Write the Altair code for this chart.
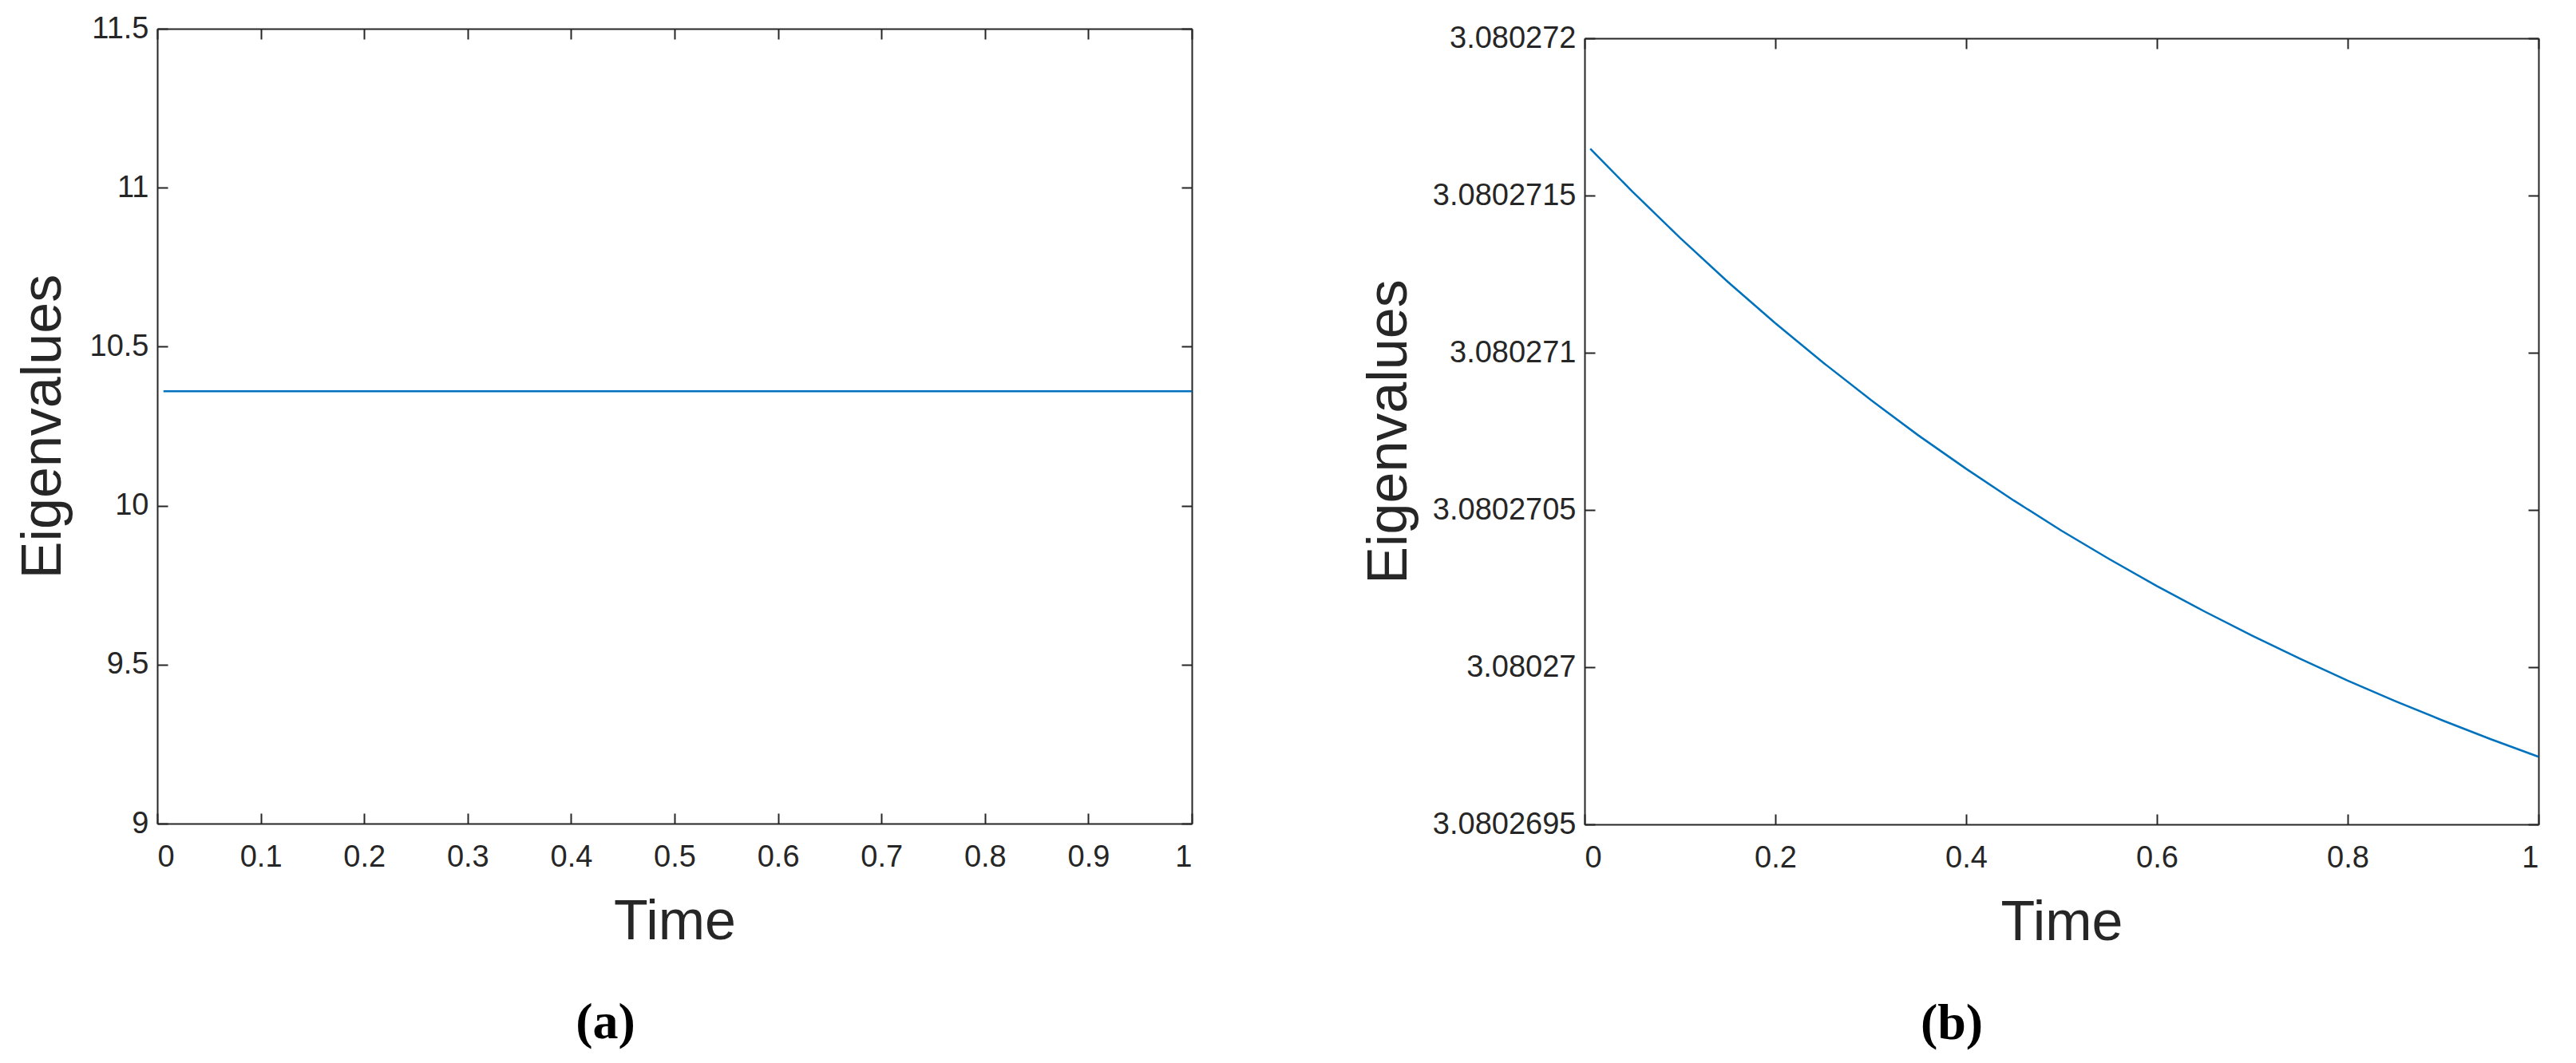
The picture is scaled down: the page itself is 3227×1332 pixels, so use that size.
import altair as alt
import pandas as pd

# ---------------- data ----------------
time_a = [0.006, 0.1, 0.2, 0.3, 0.4, 0.5, 0.6, 0.7, 0.8, 0.9, 1.0]
eig_a = [10.36, 10.36, 10.36, 10.36, 10.36, 10.36, 10.36, 10.36, 10.36, 10.36, 10.36]

time_b = [0.006, 0.05, 0.1, 0.15, 0.2, 0.25, 0.3, 0.35, 0.4, 0.45, 0.5,
          0.55, 0.6, 0.65, 0.7, 0.75, 0.8, 0.85, 0.9, 0.95, 1.0]
eig_b = [3.080271649, 3.080271513, 3.080271366, 3.080271226, 3.080271094,
         3.080270969, 3.08027085, 3.080270737, 3.080270631, 3.08027053,
         3.080270434, 3.080270344, 3.080270258, 3.080270177, 3.0802701,
         3.080270027, 3.080269957, 3.080269892, 3.08026983, 3.080269771,
         3.080269715]

xticks_a = [0, 0.1, 0.2, 0.3, 0.4, 0.5, 0.6, 0.7, 0.8, 0.9, 1]
yticks_a = [9, 9.5, 10, 10.5, 11, 11.5]
xticks_b = [0, 0.2, 0.4, 0.6, 0.8, 1]
yticks_b = [3.0802695, 3.08027, 3.0802705, 3.080271, 3.0802715, 3.080272]

x_title = "Time"
y_title = "Eigenvalues"
captions = ["(a)", "(b)"]

# ---------------- style ----------------
INK = "#262626"
BLUE = "#0072BD"
TICK = 13
SANS = "Liberation Sans"

df_a = pd.DataFrame({"t": time_a, "v": eig_a})
df_b = pd.DataFrame({"t": time_b, "v": eig_b})


def panel(df, xvals, yvals, w, h, shift, caption, ylabfmt):
    xs = alt.Scale(domain=[xvals[0], xvals[-1]], nice=False, zero=False)
    ys = alt.Scale(domain=[yvals[0], yvals[-1]], nice=False, zero=False,
                   range=[h, shift])
    ticks_only = dict(tickSize=TICK, tickWidth=2, tickColor=INK,
                      domain=False, grid=False)
    dom_only = dict(ticks=False, labels=False, domain=True, domainColor=INK,
                    domainWidth=2, grid=False, title=None)
    lab_style = dict(labelFont=SANS, labelFontSize=38, labelColor=INK,
                     titleFont=SANS, titleFontSize=70, titleColor=INK,
                     titleFontWeight="normal")

    line = alt.Chart(df).mark_line(color=BLUE, strokeWidth=2.5).encode(
        x=alt.X("t:Q", scale=xs,
                axis=alt.Axis(orient="bottom", values=xvals, title=x_title,
                              labelExpr="format(datum.value, '~g')",
                              labelPadding=23, titlePadding=28, offset=-TICK,
                              **ticks_only, **lab_style)),
        y=alt.Y("v:Q", scale=ys,
                axis=alt.Axis(orient="left", values=yvals, title=y_title,
                              labelExpr=ylabfmt,
                              labelPadding=11, titlePadding=22, offset=-TICK,
                              **ticks_only, **lab_style)),
    )
    # inward ticks on top and right
    opp_ticks = alt.Chart(df).mark_line(opacity=0).encode(
        x=alt.X("t:Q", scale=xs,
                axis=alt.Axis(orient="top", values=xvals, labels=False,
                              title=None, offset=-(TICK + shift), **ticks_only)),
        y=alt.Y("v:Q", scale=ys,
                axis=alt.Axis(orient="right", values=yvals, labels=False,
                              title=None, offset=-TICK, **ticks_only)),
    )
    # box: top and right edges
    box_tr = alt.Chart(df).mark_line(opacity=0).encode(
        x=alt.X("t:Q", scale=xs,
                axis=alt.Axis(orient="top", offset=-shift, **dom_only)),
        y=alt.Y("v:Q", scale=ys,
                axis=alt.Axis(orient="right", offset=0, **dom_only)),
    )
    # box: bottom and left edges
    box_bl = alt.Chart(df).mark_line(opacity=0).encode(
        x=alt.X("t:Q", scale=xs,
                axis=alt.Axis(orient="bottom", offset=0, **dom_only)),
        y=alt.Y("v:Q", scale=ys,
                axis=alt.Axis(orient="left", offset=0, **dom_only)),
    )
    return alt.layer(line, opp_ticks, box_tr, box_bl).resolve_axis(
        x="independent", y="independent"
    ).properties(
        width=w, height=h,
        title=alt.TitleParams(text=caption, orient="bottom", anchor="middle",
                              frame="bounds", font="Liberation Serif",
                              fontSize=64, fontWeight="bold", color="black",
                              offset=60),
    )


pa = panel(df_a, xticks_a, yticks_a, 1296, 996, 0, captions[0],
           "format(datum.value, '~g')")
pb = panel(df_b, xticks_b, yticks_b, 1195, 997, 12, captions[1],
           "format(datum.value, '.8~g')")

chart = alt.concat(pa, pb, columns=2, spacing=207, align="none").properties(
    padding={"left": 11, "top": 9, "right": 5, "bottom": 5},
    background="white",
).configure_view(stroke=None)

chart.save("out.html", embed_options={"renderer": "svg", "actions": False})
